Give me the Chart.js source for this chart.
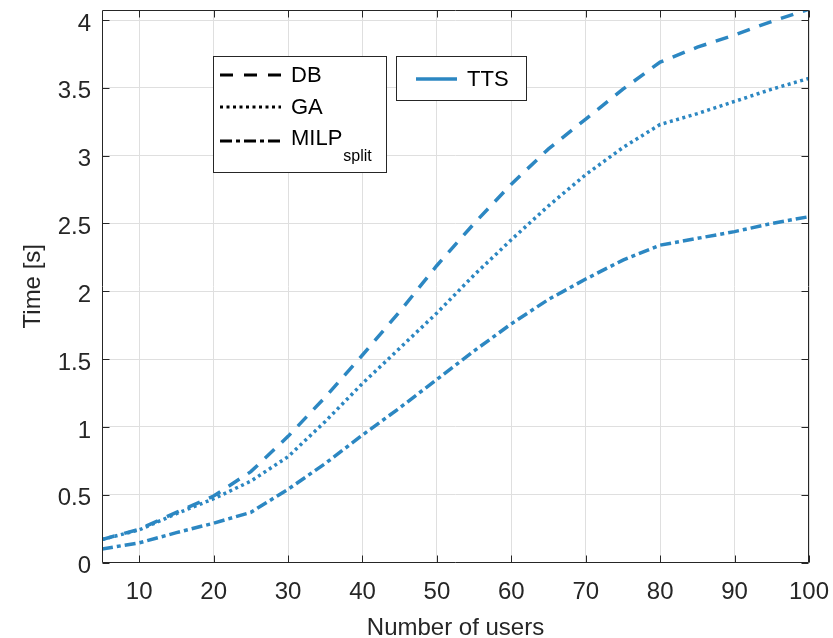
<!DOCTYPE html>
<html>
<head>
<meta charset="utf-8">
<script src="https://cdn.jsdelivr.net/npm/chart.js@4/dist/chart.umd.min.js"></script>
<style>
  html, body { margin: 0; padding: 0; background: #ffffff; }
  canvas { display: block; }
</style>
</head>
<body>
<canvas id="chart" width="833" height="638"></canvas>
<script>
// Number of users on the x axis
const users = [5, 10, 15, 20, 25, 30, 35, 40, 45, 50, 55, 60, 65, 70, 75, 80, 85, 90, 95, 100];

// Computation time [s] per method
const dbTime   = [0.17, 0.245, 0.37, 0.49, 0.67, 0.93, 1.22, 1.53, 1.85, 2.19, 2.50, 2.79, 3.05, 3.27, 3.49, 3.69, 3.80, 3.89, 3.99, 4.08];
const gaTime   = [0.17, 0.24, 0.36, 0.47, 0.60, 0.78, 1.04, 1.32, 1.58, 1.84, 2.12, 2.38, 2.63, 2.86, 3.06, 3.23, 3.31, 3.40, 3.49, 3.57];
const milpTime = [0.10, 0.145, 0.22, 0.29, 0.37, 0.54, 0.73, 0.94, 1.14, 1.35, 1.56, 1.76, 1.94, 2.09, 2.23, 2.34, 2.39, 2.44, 2.50, 2.55];

// Tick labels
const xTickValues = [10, 20, 30, 40, 50, 60, 70, 80, 90, 100];
const yTickValues = [0, 0.5, 1, 1.5, 2, 2.5, 3, 3.5, 4];

const BLUE = 'rgb(44,135,194)';
const AXIS = '#262626';
const GRID = '#dfdfdf';
const FONT = '"Liberation Sans", Arial, Helvetica, sans-serif';

const pts = (ys) => users.map((x, i) => ({ x: x, y: ys[i] }));

// Inward ticks on all four sides plus the closing box, then the two legend boxes
const boxAndLegend = {
  id: 'boxAndLegend',
  afterDatasetsDraw(chart) {
    const ctx = chart.ctx;
    const a = chart.chartArea;
    const xs = chart.scales.x, ys = chart.scales.y;
    const L = Math.round(a.left) + 0.5, R = Math.round(a.right) - 0.5;
    const T = Math.round(a.top) + 0.5, B = Math.round(a.bottom) - 0.5;
    const tl = 7;
    ctx.save();
    ctx.strokeStyle = AXIS;
    ctx.lineWidth = 1;
    ctx.setLineDash([]);
    ctx.beginPath();
    ctx.rect(L, T, R - L, B - T);
    xTickValues.forEach(v => {
      const px = Math.round(xs.getPixelForValue(v)) + 0.5;
      ctx.moveTo(px, B); ctx.lineTo(px, B - tl);
      ctx.moveTo(px, T); ctx.lineTo(px, T + tl);
    });
    yTickValues.forEach(v => {
      const py = Math.round(ys.getPixelForValue(v)) + 0.5;
      ctx.moveTo(L, py); ctx.lineTo(L + tl, py);
      ctx.moveTo(R, py); ctx.lineTo(R - tl, py);
    });
    ctx.stroke();

    // Method legend (line styles)
    ctx.fillStyle = '#ffffff';
    ctx.fillRect(213.5, 56.5, 173, 116);
    ctx.strokeStyle = AXIS;
    ctx.strokeRect(213.5, 56.5, 173, 116);

    const entries = [
      { y: 75, dash: [13, 11], text: 'DB' },
      { y: 107, dash: [3, 3.5], text: 'GA' },
      { y: 141, dash: [12, 4, 4, 4], text: 'MILP', sub: 'split' }
    ];
    ctx.textBaseline = 'middle';
    ctx.textAlign = 'left';
    entries.forEach(e => {
      ctx.strokeStyle = '#000000';
      ctx.lineWidth = 3;
      ctx.setLineDash(e.dash);
      ctx.beginPath();
      ctx.moveTo(220, e.y); ctx.lineTo(281, e.y);
      ctx.stroke();
      ctx.setLineDash([]);
      ctx.fillStyle = '#000000';
      ctx.font = '22px ' + FONT;
      const ty = e.sub ? e.y - 2 : e.y + 1;
      ctx.fillText(e.text, 291, ty);
      if (e.sub) {
        const w = ctx.measureText(e.text).width;
        ctx.font = '16px ' + FONT;
        ctx.fillText(e.sub, 291 + w + 1, ty + 18);
      }
    });

    // Series legend
    ctx.fillStyle = '#ffffff';
    ctx.fillRect(396.5, 56.5, 130, 44);
    ctx.strokeStyle = AXIS;
    ctx.lineWidth = 1;
    ctx.strokeRect(396.5, 56.5, 130, 44);
    ctx.strokeStyle = BLUE;
    ctx.lineWidth = 3.5;
    ctx.beginPath();
    ctx.moveTo(416, 79); ctx.lineTo(457, 79);
    ctx.stroke();
    ctx.fillStyle = '#000000';
    ctx.font = '22px ' + FONT;
    ctx.fillText('TTS', 467, 80);
    ctx.restore();
  }
};

const lineDs = (label, ys, dash) => ({
  label: label,
  data: pts(ys),
  borderColor: BLUE,
  backgroundColor: BLUE,
  borderWidth: 3.5,
  borderDash: dash,
  borderCapStyle: 'butt',
  pointRadius: 0,
  tension: 0,
  fill: false
});

new Chart(document.getElementById('chart'), {
  type: 'line',
  data: {
    datasets: [
      lineDs('DB', dbTime, [13, 10]),
      lineDs('GA', gaTime, [3, 3.5]),
      lineDs('MILP split', milpTime, [11, 4, 4, 4])
    ]
  },
  options: {
    responsive: false,
    animation: false,
    devicePixelRatio: 1,
    layout: { padding: { top: 10, right: 24, left: 0, bottom: 0 } },
    plugins: { legend: { display: false }, tooltip: { enabled: false } },
    scales: {
      x: {
        type: 'linear',
        min: 5,
        max: 100,
        afterFit(scale) {
          scale.height = 75.5;
          scale.paddingLeft = 0;
          scale.paddingRight = 0;
        },
        afterBuildTicks(scale) { scale.ticks = xTickValues.map(v => ({ value: v })); },
        grid: { color: GRID, drawTicks: false, lineWidth: 1 },
        border: { display: false },
        ticks: {
          color: AXIS,
          font: { family: FONT, size: 24 },
          padding: 15,
          maxRotation: 0,
          autoSkip: false,
          callback: (v) => String(v)
        },
        title: {
          display: true,
          text: 'Number of users',
          color: AXIS,
          font: { family: FONT, size: 24, lineHeight: 0.8 },
          padding: { top: 0, bottom: 0 }
        }
      },
      y: {
        type: 'linear',
        min: 0,
        max: 4.074,
        afterFit(scale) {
          scale.width = 102;
          scale.paddingTop = 0;
          scale.paddingBottom = 0;
        },
        afterBuildTicks(scale) { scale.ticks = yTickValues.map(v => ({ value: v })); },
        grid: { color: GRID, drawTicks: false, lineWidth: 1 },
        border: { display: false },
        ticks: {
          color: AXIS,
          font: { family: FONT, size: 24 },
          padding: 11,
          labelOffset: 4,
          autoSkip: false,
          callback: (v) => String(v)
        },
        title: {
          display: true,
          text: 'Time [s]',
          color: AXIS,
          font: { family: FONT, size: 24 },
          padding: { top: 19, bottom: 0 }
        }
      }
    }
  },
  plugins: [boxAndLegend]
});
</script>
</body>
</html>
